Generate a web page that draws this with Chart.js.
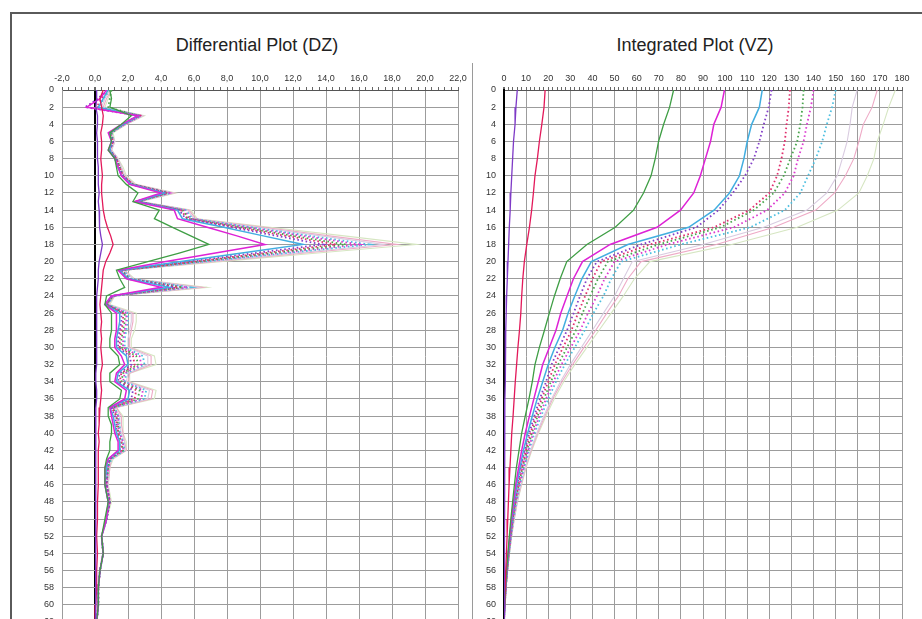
<!DOCTYPE html>
<html>
<head>
<meta charset="utf-8">
<script src="https://cdn.jsdelivr.net/npm/chart.js@4.4.0/dist/chart.umd.min.js"></script>
<style>
  html, body { margin: 0; padding: 0; background: #fff; overflow: hidden; }
  body { width: 922px; height: 619px; position: relative; }
  .frame-top { position: absolute; left: 10px; top: 12px; width: 912px; height: 2px; background: #5a5a5a; }
  .frame-left { position: absolute; left: 10px; top: 12px; width: 2px; height: 620px; background: #5a5a5a; }
  .sep { position: absolute; left: 472px; top: 63px; width: 1px; height: 570px; background: #9a9a9a; }
  .title { position: absolute; top: 34px; width: 240px; font: 18px "Liberation Sans", Arial, sans-serif; color: #222; text-align: center; line-height: 22px; }
  #wrapDZ { position: absolute; left: 0; top: 0; width: 470px; height: 640px; }
  #wrapVZ { position: absolute; left: 470px; top: 0; width: 452px; height: 640px; }
</style>
</head>
<body>
<div class="frame-top"></div>
<div class="frame-left"></div>
<div class="sep"></div>
<div class="title" style="left:137px">Differential Plot (DZ)</div>
<div class="title" style="left:575px">Integrated Plot (VZ)</div>
<div id="wrapDZ"><canvas id="chartDZ"></canvas></div>
<div id="wrapVZ"><canvas id="chartVZ"></canvas></div>
<script>
// ---- depths ----
const dzDepth = [0,1,2,3,4,5,6,7,8,9,10,11,12,13,14,15,16,17,18,19,20,21,22,23,24,25,26,27,28,29,30,31,32,33,34,35,36,37,38,39,40,41,42,43,44,46,48,50,52,54,56,58,60,62];
const vzDepth = [0,2,4,6,8,10,12,14,16,18,20,22,24,26,28,30,32,34,36,38,40,42,44,46,48,50,52,54,56,58,60,62];

// ---- tick labels ----
const dzTickLabels = ['-2,0','0,0','2,0','4,0','6,0','8,0','10,0','12,0','14,0','16,0','18,0','20,0','22,0'];
const vzTickLabels = ['0','10','20','30','40','50','60','70','80','90','100','110','120','130','140','150','160','170','180'];
const depthTickLabels = ['0','2','4','6','8','10','12','14','16','18','20','22','24','26','28','30','32','34','36','38','40','42','44','46','48','50','52','54','56','58','60','62'];

// ---- differential (DZ) ----
const dzViolet = [0.1,0.1,0.05,0.15,0.15,0.1,0.15,0.15,0.15,0.2,0.2,0.2,
  0.25,0.2,0.25,0.25,0.3,0.35,0.45,0.35,0.25,0.2,0.2,0.15,0.1,
  0.1,0.1,0.1,0.1,0.1,0.1,0.1,0.1,0.05,0.05,0.1,0.1,0.05,0.05,0.05,0.05,0.05,0.05,0.05,0.05,
  0.05,0.05,0.05,0,0.05,0,0.05,0,0];
const dzRed = [0.5,0.3,0.4,0.5,0.45,0.35,0.4,0.4,0.35,0.4,0.45,0.4,
  0.4,0.45,0.5,0.6,0.75,0.95,1.1,0.9,0.65,0.5,0.45,0.4,0.35,
  0.3,0.35,0.4,0.35,0.4,0.35,0.4,0.45,0.35,0.35,0.4,0.35,0.3,0.25,0.25,0.2,0.25,0.2,0.2,0.2,
  0.2,0.15,0.15,0.1,0.15,0.1,0.1,0.05,0];
const dzGreen = [0.9,1.0,0.9,2.2,1.6,0.9,1.0,0.8,1.2,1.3,1.4,1.9,
  2.6,2.3,3.9,3.6,4.7,5.8,6.9,5.1,3.2,1.3,1.5,1.8,0.7,
  0.6,1.0,1.0,1.0,0.9,0.9,1.4,1.5,0.9,0.9,1.6,1.5,0.8,0.8,1.0,1.0,0.9,0.9,0.7,0.6,
  0.6,0.8,0.6,0.4,0.5,0.3,0.2,0.2,0.1];
const dzMagenta = [0.7,0.3,-0.5,2.6,1.6,0.8,1.0,0.8,1.2,1.4,1.6,2.1,
  4.0,2.4,4.8,5.0,6.8,8.6,10.3,7.3,4.3,1.4,1.9,4.0,1.0,
  0.6,1.3,1.3,1.3,1.2,1.2,1.6,1.8,1.3,1.2,1.9,1.8,0.9,1.0,1.1,1.2,1.4,1.4,0.8,0.6,
  0.6,0.8,0.7,0.4,0.5,0.3,0.2,0.2,0.1];
const dzCyan = [0.8,0.5,0.2,2.6,1.7,0.9,1.0,0.9,1.2,1.4,1.6,2.2,
  4.2,2.5,5.0,5.3,7.8,10.2,12.6,8.9,5.2,1.5,2.0,4.5,1.0,
  0.6,1.5,1.5,1.4,1.3,1.3,1.9,2.0,1.4,1.3,2.1,2.0,0.9,1.1,1.2,1.3,1.5,1.5,0.8,0.7,
  0.6,0.8,0.7,0.4,0.5,0.3,0.2,0.2,0.1];
const dzVioletDot = [0.7,0.2,-0.6,2.7,1.7,0.9,1.1,0.9,1.3,1.4,1.7,2.2,
  4.3,2.5,5.1,5.5,8.3,11.0,13.8,9.7,5.6,1.5,2.0,4.8,1.0,
  0.7,1.6,1.6,1.5,1.4,1.4,2.1,2.2,1.5,1.4,2.3,2.2,1.0,1.2,1.3,1.3,1.5,1.5,0.9,0.7,
  0.7,0.9,0.7,0.4,0.5,0.3,0.2,0.2,0.1];
const dzRedDot = [0.8,0.4,0.1,2.7,1.7,0.9,1.1,0.9,1.3,1.5,1.7,2.3,
  4.4,2.5,5.2,5.6,8.6,11.6,14.6,10.3,6.0,1.6,2.0,5.0,1.0,
  0.7,1.7,1.7,1.6,1.5,1.5,2.3,2.4,1.6,1.5,2.5,2.4,1.0,1.3,1.3,1.4,1.6,1.6,0.9,0.7,
  0.7,0.9,0.7,0.4,0.5,0.3,0.2,0.2,0.1];
const dzGreenDot = [1.0,0.9,0.8,2.6,1.7,1.0,1.1,0.9,1.3,1.5,1.7,2.3,
  4.4,2.6,5.3,5.7,8.9,12.0,15.2,10.7,6.2,1.6,2.1,5.3,1.1,
  0.7,1.8,1.8,1.7,1.6,1.6,2.5,2.6,1.7,1.6,2.7,2.6,1.1,1.3,1.4,1.4,1.6,1.7,0.9,0.8,
  0.7,0.9,0.7,0.4,0.5,0.3,0.2,0.2,0.1];
const dzMagentaDot = [0.7,0.2,-0.5,2.8,1.8,0.9,1.1,0.9,1.3,1.5,1.7,2.3,
  4.5,2.6,5.4,5.8,9.2,12.6,16.0,11.2,6.4,1.6,2.1,5.6,1.1,
  0.7,1.9,1.9,1.8,1.7,1.7,2.7,2.8,1.8,1.7,2.9,2.8,1.1,1.4,1.4,1.5,1.7,1.7,0.9,0.8,
  0.7,0.9,0.7,0.4,0.5,0.3,0.2,0.2,0.1];
const dzCyanDot = [0.9,0.5,0.3,2.8,1.8,1.0,1.1,0.9,1.3,1.5,1.7,2.3,
  4.6,2.6,5.5,5.9,9.5,13.0,16.6,11.6,6.6,1.7,2.2,5.8,1.1,
  0.8,2.0,2.0,1.9,1.8,1.8,2.9,3.0,1.9,1.8,3.1,3.0,1.2,1.4,1.5,1.5,1.7,1.8,1.0,0.8,
  0.7,0.9,0.7,0.4,0.5,0.3,0.2,0.2,0.1];
const dzLavender = [0.9,0.6,0.4,2.9,1.8,1.0,1.2,1.0,1.4,1.6,1.8,2.4,
  4.7,2.7,5.6,6.0,9.8,13.7,17.5,12.2,6.9,1.7,2.3,6.2,1.1,
  0.8,2.2,2.2,2.1,2.0,2.0,3.2,3.2,2.0,1.9,3.3,3.2,1.2,1.5,1.5,1.6,1.8,1.8,1.0,0.8,
  0.8,0.9,0.7,0.4,0.5,0.3,0.2,0.2,0.1];
const dzPink = [1.0,0.7,0.5,2.9,1.9,1.0,1.2,1.0,1.4,1.6,1.8,2.4,
  4.8,2.7,5.7,6.1,10.2,14.2,18.3,12.7,7.2,1.8,2.3,6.5,1.2,
  0.8,2.3,2.3,2.2,2.1,2.1,3.4,3.4,2.1,2.0,3.5,3.4,1.3,1.6,1.6,1.7,1.8,1.9,1.0,0.9,
  0.8,0.9,0.7,0.4,0.5,0.3,0.2,0.2,0.1];
const dzLime = [1.0,0.8,0.6,3.0,1.9,1.1,1.2,1.0,1.4,1.7,1.9,2.5,
  4.9,2.8,5.8,6.2,10.6,15.1,19.5,13.5,7.6,1.8,2.4,6.8,1.2,
  0.9,2.5,2.5,2.4,2.2,2.2,3.6,3.7,2.1,2.1,3.7,3.6,1.3,1.7,1.7,1.7,1.9,1.9,1.1,0.9,
  0.8,1.0,0.7,0.4,0.5,0.3,0.2,0.2,0.1];

// ---- integrated (VZ) ----
const vzViolet = [6.0,5.4,5.0,4.3,3.9,3.5,3.1,2.8,2.4,2.1,1.8,1.5,1.2,1.0,0.8,0.7,0.6,0.5,0.4,0.35,0.3,0.25,0.2,0.15,0.1,0.1,0.05,0.05,0.02,0.01,0,0];
const vzRed = [18.6,18.1,17.1,16.0,15.1,14.0,13.3,12.5,11.5,10.3,9.2,8.5,8.0,7.6,7.0,6.3,5.7,5.1,4.6,4.1,3.5,3.1,2.7,2.3,2.0,1.7,1.4,1.1,0.8,0.5,0.2,0];
const vzGreen = [76.7,74.9,72.2,69.9,68.4,66.5,63.1,58.6,50.3,37.5,28.4,25.4,22.8,20.5,18.3,16.0,14.0,12.8,11.3,9.6,8.0,6.8,5.6,4.7,3.9,3.1,2.4,1.8,1.2,0.7,0.3,0];
const vzMagenta = [99.7,98.2,94.9,93.4,91.1,88.8,85.8,79.8,69.2,48.0,35.5,31.4,28.5,25.7,23.5,20.5,17.5,15.5,13.5,11.5,9.6,8.0,6.6,5.3,4.3,3.4,2.6,1.9,1.2,0.7,0.3,0];
const vzCyan = [116.8,115.5,112.0,110.0,108.5,106.5,102.0,95.0,83.5,56.0,39.5,35.2,32.0,29.0,26.5,23.0,20.0,17.5,15.0,12.8,10.7,8.8,7.2,5.8,4.6,3.6,2.7,2.0,1.3,0.7,0.3,0];
const vzVioletDot = [121.0,119.7,117.5,115.5,113.0,109.0,103.5,97.0,87.0,62.0,42.0,37.5,34.4,31.5,28.5,25.0,21.5,19.0,16.2,13.7,11.4,9.4,7.6,6.1,4.8,3.7,2.8,2.0,1.3,0.8,0.3,0];
const vzRedDot = [129.3,128.8,127.8,127.0,125.5,123.5,120.0,111.0,95.0,66.0,44.0,40.0,36.7,33.5,30.5,26.7,23.0,20.0,17.0,14.4,12.0,9.9,8.0,6.4,5.0,3.9,2.9,2.1,1.4,0.8,0.3,0];
const vzGreenDot = [135.5,135.0,134.0,132.6,129.5,126.5,122.0,113.0,98.0,70.0,47.0,42.5,39.0,35.5,32.5,28.5,24.5,21.2,18.0,15.2,12.6,10.4,8.4,6.7,5.2,4.0,3.0,2.2,1.4,0.8,0.4,0];
const vzMagentaDot = [140.0,138.8,137.0,135.5,133.0,131.0,127.0,119.0,104.0,74.0,50.0,45.5,42.0,38.0,34.5,30.2,26.0,22.3,19.0,16.0,13.2,10.9,8.8,7.0,5.4,4.1,3.1,2.2,1.5,0.8,0.4,0];
const vzCyanDot = [150.0,148.4,146.0,143.9,141.0,137.5,134.0,127.0,111.4,80.0,53.0,48.5,45.0,40.5,36.5,32.0,27.5,23.5,20.0,16.8,13.8,11.3,9.1,7.2,5.6,4.3,3.2,2.3,1.5,0.9,0.4,0];
const vzLavender = [159.7,157.5,156.5,155.2,153.0,150.7,146.0,137.0,117.4,90.0,58.0,54.0,50.0,45.0,40.0,35.0,30.0,25.5,21.5,18.0,14.8,12.0,9.6,7.6,5.9,4.5,3.3,2.4,1.6,0.9,0.4,0];
const vzPink = [168.8,166.5,162.5,160.5,158.2,154.4,149.5,141.0,122.0,96.0,62.0,56.0,51.8,46.5,41.5,36.2,31.0,26.2,22.0,18.5,15.2,12.3,9.8,7.8,6.0,4.6,3.4,2.4,1.6,0.9,0.4,0];
const vzLime = [177.0,174.0,171.5,168.8,167.3,164.3,160.5,151.0,132.6,103.0,66.0,59.0,54.0,48.5,43.0,37.5,32.0,27.0,22.7,19.0,15.6,12.6,10.0,8.0,6.1,4.7,3.5,2.5,1.6,0.9,0.4,0];

// estilos de cada serie (mismo orden en los dos gráficos)
const lineStyles = [
  { color: '#7e3ac6', dash: [], width: 1.3 },
  { color: '#e3195a', dash: [], width: 1.3 },
  { color: '#3e9e44', dash: [], width: 1.3 },
  { color: '#de22d6', dash: [], width: 1.5 },
  { color: '#42aee0', dash: [], width: 1.5 },
  { color: '#8440c8', dash: [1.6, 2.6], width: 1.8 },
  { color: '#e0306e', dash: [1.6, 2.6], width: 1.8 },
  { color: '#4aa64e', dash: [1.6, 2.6], width: 1.8 },
  { color: '#dc3ad0', dash: [1.6, 2.6], width: 1.8 },
  { color: '#4cbfe0', dash: [1.6, 2.6], width: 1.8 },
  { color: '#d9cbe0', dash: [], width: 1.1 },
  { color: '#eeaac6', dash: [], width: 1.1 },
  { color: '#d6e6c2', dash: [], width: 1.1 }
];

const dzAll = [dzViolet, dzRed, dzGreen, dzMagenta, dzCyan, dzVioletDot, dzRedDot, dzGreenDot, dzMagentaDot, dzCyanDot, dzLavender, dzPink, dzLime];
const vzAll = [vzViolet, vzRed, vzGreen, vzMagenta, vzCyan, vzVioletDot, vzRedDot, vzGreenDot, vzMagentaDot, vzCyanDot, vzLavender, vzPink, vzLime];

const tickFont = { family: "'Liberation Sans Narrow', 'Liberation Sans', Arial, sans-serif", size: 9 };
const gridGray = '#9c9c9c';

function buildDatasets(allSeries, depths) {
    return allSeries.map((serie, i) => ({
        label: 'Serie ' + (i + 1),
        data: serie.map((v, k) => ({ x: v, y: depths[k] })),
        borderColor: lineStyles[i].color,
        borderDash: lineStyles[i].dash,
        borderWidth: lineStyles[i].width,
        pointRadius: 0,
        tension: 0,
        fill: false
    }));
}

function buildOptions(xMin, xMax, minorStep, majorStep, labels, yWidth, padRight, leftBorderColor) {
    const isMajor = v => {
        const k = (v - xMin) / majorStep;
        return Math.abs(k - Math.round(k)) < 1e-6;
    };
    return {
        responsive: true,
        maintainAspectRatio: false,
        animation: false,
        indexAxis: 'y',
        layout: { padding: { left: 0, right: padRight, top: 60, bottom: 18 } },
        plugins: { legend: { display: false }, tooltip: { enabled: false } },
        scales: {
            x: {
                type: 'linear',
                position: 'top',
                min: xMin,
                max: xMax,
                afterFit: s => { s.height = 30; },
                ticks: {
                    stepSize: minorStep,
                    autoSkip: false,
                    maxRotation: 0,
                    padding: 3,
                    color: '#333',
                    font: tickFont,
                    callback: v => isMajor(v) ? labels[Math.round((v - xMin) / majorStep)] : ''
                },
                grid: {
                    color: ctx => {
                        const v = ctx.tick ? ctx.tick.value : NaN;
                        if (Math.abs(v) < 1e-6) return '#000';
                        return isMajor(v) ? gridGray : 'rgba(0,0,0,0)';
                    },
                    lineWidth: ctx => (ctx.tick && Math.abs(ctx.tick.value) < 1e-6) ? 2 : 1,
                    tickColor: '#666',
                    tickLength: 3
                },
                border: { display: true, color: '#555', width: 1 }
            },
            y: {
                type: 'linear',
                reverse: true,
                min: 0,
                max: 62,
                afterFit: s => { s.width = yWidth; },
                ticks: {
                    stepSize: 2,
                    autoSkip: false,
                    padding: 8,
                    color: '#333',
                    font: tickFont,
                    callback: v => depthTickLabels[Math.round(v / 2)]
                },
                grid: { color: gridGray, lineWidth: 1, drawTicks: false },
                border: { display: true, color: leftBorderColor, width: leftBorderColor === '#000' ? 2 : 1 }
            }
        }
    };
}

new Chart(document.getElementById('chartDZ'), {
    type: 'line',
    data: { datasets: buildDatasets(dzAll, dzDepth) },
    options: buildOptions(-2, 22, 0.4, 2, dzTickLabels, 62, 12, gridGray)
});

new Chart(document.getElementById('chartVZ'), {
    type: 'line',
    data: { datasets: buildDatasets(vzAll, vzDepth) },
    options: buildOptions(0, 180, 2, 10, vzTickLabels, 34, 20, '#000')
});
</script>
</body>
</html>
